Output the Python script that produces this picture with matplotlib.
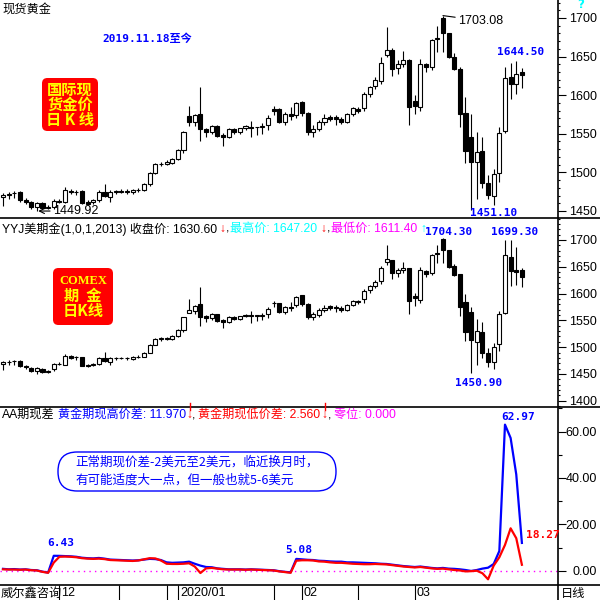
import matplotlib
matplotlib.use("Agg")
import matplotlib.pyplot as plt
from matplotlib.lines import Line2D
from matplotlib.patches import FancyBboxPatch
from matplotlib.ticker import MultipleLocator

plt.rcParams['font.family'] = ['Liberation Sans', 'Noto Sans CJK SC', 'DejaVu Sans']

W = H = 600  # canvas size in pixels


def fx(x):
    return x / W


def fy(y):
    return 1 - y / H


# --- spot gold daily candles (2019-11-18 .. 2020-03-27) ---
SPOT_O = [1468.5, 1471.0, 1473.0, 1474.0, 1464.0, 1461.0, 1455.0, 1460.0, 1454.5, 1455.0,
          1463.5, 1461.0, 1476.5, 1474.5, 1476.0, 1462.0, 1461.0, 1464.0, 1474.5, 1468.0,
          1475.0, 1475.5, 1475.0, 1474.0, 1477.0, 1477.0, 1484.5, 1499.0, 1511.0, 1511.5,
          1512.5, 1517.0, 1529.0, 1573.0, 1565.0, 1575.5, 1556.0, 1552.0, 1560.0, 1548.0,
          1546.0, 1556.0, 1552.0, 1557.0, 1559.0, 1558.4, 1558.4, 1561.0, 1581.7, 1581.7,
          1565.7, 1575.6, 1574.0, 1591.6, 1576.5, 1552.0, 1556.2, 1565.7, 1572.2, 1571.3,
          1568.7, 1565.7, 1575.2, 1582.0, 1583.0, 1601.5, 1612.0, 1619.0, 1652.0, 1658.5,
          1635.0, 1640.0, 1645.6, 1592.5, 1585.0, 1640.0, 1637.0, 1672.4, 1699.6, 1680.0,
          1649.0, 1634.0, 1576.5, 1546.0, 1513.0, 1527.7, 1486.0, 1469.0, 1498.8, 1554.0,
          1623.0, 1615.0, 1630.5]
SPOT_H = [1473.0, 1475.0, 1476.0, 1476.0, 1466.5, 1463.0, 1462.0, 1462.0, 1458.0, 1465.0,
          1466.0, 1481.0, 1479.0, 1477.0, 1477.0, 1464.0, 1466.0, 1477.0, 1485.0, 1477.0,
          1477.0, 1478.0, 1478.0, 1479.0, 1480.0, 1486.0, 1500.0, 1512.0, 1514.0, 1516.0,
          1519.0, 1530.0, 1553.0, 1586.0, 1576.0, 1611.0, 1558.0, 1562.0, 1561.5, 1551.0,
          1557.0, 1558.0, 1558.0, 1561.0, 1567.0, 1559.0, 1564.0, 1574.0, 1586.0, 1583.0,
          1578.0, 1584.3, 1591.0, 1593.0, 1578.0, 1561.4, 1568.0, 1575.2, 1574.0, 1574.3,
          1572.2, 1576.5, 1585.0, 1584.3, 1604.6, 1612.0, 1623.0, 1649.0, 1688.0, 1660.7,
          1645.0, 1657.7, 1646.5, 1600.0, 1647.0, 1642.0, 1673.0, 1689.0, 1703.08, 1681.0,
          1654.0, 1636.0, 1598.0, 1575.0, 1552.0, 1546.0, 1497.0, 1505.0, 1559.0, 1636.3,
          1642.0, 1644.5, 1635.2]
SPOT_L = [1456.0, 1466.0, 1467.0, 1462.0, 1459.5, 1453.0, 1449.92, 1452.0, 1452.0, 1452.0,
          1460.0, 1460.0, 1472.0, 1471.0, 1459.0, 1458.0, 1459.0, 1462.0, 1468.0, 1462.0,
          1472.0, 1473.0, 1472.0, 1472.0, 1475.0, 1476.0, 1483.0, 1498.0, 1508.0, 1510.0,
          1511.0, 1516.0, 1525.0, 1560.0, 1560.0, 1540.0, 1545.5, 1550.0, 1545.5, 1534.6,
          1544.0, 1550.0, 1550.0, 1555.0, 1545.5, 1548.5, 1550.0, 1555.0, 1574.3, 1564.0,
          1562.0, 1567.9, 1570.0, 1573.0, 1548.0, 1546.3, 1553.0, 1561.4, 1566.0, 1561.4,
          1562.6, 1564.4, 1573.0, 1577.4, 1580.0, 1598.0, 1608.0, 1615.0, 1650.0, 1625.0,
          1628.0, 1636.0, 1561.0, 1575.0, 1580.0, 1630.0, 1633.0, 1656.0, 1656.0, 1648.0,
          1633.0, 1559.0, 1512.0, 1451.1, 1466.0, 1480.0, 1466.0, 1458.0, 1488.0, 1551.0,
          1595.0, 1602.0, 1608.8]
SPOT_C = [1471.0, 1472.0, 1473.5, 1464.0, 1462.0, 1455.0, 1460.0, 1453.5, 1455.5, 1463.5,
          1461.5, 1477.0, 1474.0, 1475.0, 1460.0, 1459.5, 1464.0, 1474.5, 1469.5, 1475.0,
          1475.5, 1475.0, 1475.5, 1477.0, 1477.5, 1484.5, 1499.0, 1511.0, 1511.5, 1513.5,
          1517.0, 1529.0, 1552.0, 1565.5, 1574.5, 1556.0, 1552.0, 1560.0, 1546.5, 1545.5,
          1556.0, 1552.0, 1557.0, 1560.0, 1557.5, 1558.4, 1560.0, 1571.0, 1580.0, 1565.7,
          1575.6, 1573.5, 1589.5, 1576.5, 1552.0, 1556.2, 1565.7, 1570.0, 1568.7, 1568.7,
          1565.7, 1575.2, 1583.0, 1580.0, 1601.5, 1611.0, 1620.0, 1642.0, 1659.0, 1633.5,
          1640.0, 1645.0, 1585.0, 1586.0, 1640.4, 1636.0, 1671.5, 1674.0, 1680.0, 1649.0,
          1634.0, 1576.0, 1528.0, 1513.0, 1527.0, 1486.0, 1471.0, 1498.0, 1551.5, 1622.0,
          1615.0, 1628.0, 1626.0]

# --- COMEX gold futures daily candles ---
FUT_O = [1469.0, 1471.5, 1473.5, 1474.5, 1464.5, 1461.5, 1455.5, 1460.0, 1454.0, 1460.0,
         1469.5, 1467.3, 1482.8, 1480.8, 1481.5, 1467.3, 1466.3, 1469.3, 1479.8, 1472.6,
         1479.6, 1480.1, 1479.6, 1478.6, 1481.6, 1482.0, 1489.5, 1504.0, 1516.0, 1515.0,
         1516.0, 1520.5, 1532.5, 1564.0, 1568.0, 1580.6, 1558.5, 1554.0, 1561.5, 1550.0,
         1547.0, 1556.5, 1552.5, 1557.5, 1560.0, 1559.0, 1559.0, 1561.3, 1583.0, 1581.5,
         1565.2, 1575.1, 1578.7, 1596.5, 1581.3, 1556.8, 1560.3, 1569.8, 1576.2, 1575.2,
         1572.6, 1569.3, 1578.8, 1585.5, 1589.3, 1606.7, 1614.8, 1624.0, 1658.0, 1663.0,
         1637.8, 1644.0, 1647.0, 1595.5, 1588.0, 1642.0, 1639.0, 1676.0, 1702.0, 1681.0,
         1651.0, 1636.0, 1585.0, 1565.0, 1510.0, 1527.8, 1488.6, 1473.0, 1505.4, 1563.0,
         1667.7, 1644.0, 1644.0]
FUT_H = [1473.5, 1475.5, 1476.5, 1476.5, 1467.0, 1463.3, 1462.2, 1461.6, 1457.2, 1471.4,
         1472.4, 1487.3, 1485.2, 1483.0, 1482.6, 1469.4, 1471.3, 1482.5, 1490.2, 1481.8,
         1481.7, 1482.6, 1482.5, 1483.4, 1484.5, 1490.8, 1505.1, 1517.0, 1518.6, 1519.6,
         1522.4, 1533.5, 1556.6, 1589.9, 1579.0, 1613.2, 1559.6, 1563.5, 1562.5, 1551.8,
         1557.6, 1558.6, 1558.6, 1561.5, 1567.6, 1559.5, 1564.4, 1574.3, 1586.2, 1582.8,
         1577.5, 1583.6, 1596.1, 1597.9, 1582.7, 1566.0, 1572.3, 1579.4, 1578.0, 1578.2,
         1576.1, 1580.1, 1588.6, 1587.8, 1608.0, 1615.3, 1626.2, 1652.0, 1690.9, 1663.3,
         1647.3, 1659.7, 1648.3, 1601.6, 1648.8, 1643.5, 1674.2, 1690.0, 1704.3, 1681.9,
         1654.6, 1636.3, 1598.3, 1574.9, 1552.3, 1546.9, 1498.3, 1507.9, 1567.5, 1699.3,
         1699.2, 1686.0, 1647.2]
FUT_L = [1456.5, 1466.5, 1467.5, 1462.5, 1460.0, 1453.2, 1450.0, 1451.5, 1451.1, 1455.5,
         1466.0, 1466.1, 1478.0, 1476.8, 1464.4, 1463.2, 1464.1, 1467.2, 1473.0, 1466.6,
         1476.5, 1477.4, 1476.3, 1476.2, 1479.4, 1480.9, 1488.4, 1503.3, 1512.4, 1513.0,
         1513.9, 1518.9, 1528.0, 1563.2, 1561.8, 1539.0, 1546.5, 1551.2, 1546.4, 1535.2,
         1544.5, 1550.5, 1550.5, 1555.4, 1546.0, 1548.9, 1550.3, 1555.2, 1574.4, 1563.7,
         1561.4, 1567.0, 1574.3, 1577.5, 1552.5, 1550.7, 1557.0, 1565.3, 1569.6, 1564.8,
         1566.0, 1567.6, 1576.0, 1580.3, 1582.8, 1600.8, 1610.9, 1617.8, 1652.7, 1627.4,
         1630.1, 1637.8, 1562.6, 1576.4, 1581.6, 1631.3, 1634.0, 1656.8, 1656.9, 1648.6,
         1633.3, 1558.7, 1512.3, 1450.9, 1466.3, 1478.9, 1462.3, 1460.2, 1493.8, 1562.1,
         1613.3, 1616.0, 1611.4]
FUT_C = [1471.5, 1472.5, 1474.0, 1464.5, 1462.5, 1455.5, 1460.5, 1453.5, 1455.0, 1469.0,
         1467.8, 1483.3, 1480.2, 1481.2, 1465.3, 1464.8, 1469.3, 1479.8, 1474.8, 1479.6,
         1480.1, 1479.6, 1480.1, 1481.6, 1482.1, 1489.5, 1504.0, 1516.0, 1516.5, 1517.0,
         1520.5, 1532.5, 1555.5, 1569.0, 1577.0, 1555.8, 1554.0, 1562.0, 1548.0, 1547.5,
         1556.5, 1552.5, 1557.5, 1560.5, 1558.0, 1559.0, 1560.5, 1571.3, 1582.5, 1565.4,
         1575.1, 1573.0, 1594.2, 1581.4, 1556.7, 1561.0, 1569.8, 1574.0, 1572.7, 1572.6,
         1569.6, 1578.8, 1586.6, 1583.5, 1605.5, 1614.8, 1622.0, 1647.0, 1664.0, 1637.8,
         1644.0, 1648.4, 1587.0, 1591.0, 1644.0, 1636.6, 1672.5, 1674.0, 1681.0, 1650.0,
         1634.7, 1575.6, 1529.0, 1513.4, 1530.0, 1488.6, 1473.0, 1501.0, 1561.0, 1672.0,
         1642.8, 1641.0, 1630.6]

# --- futures minus spot: high spread (blue) and low spread (red) ---
HIGH_SPREAD = [0.8, 0.6, 0.7, 0.5, 0.6, 0.3, 0.2, -0.4, -0.8, 6.43,
               6.4, 6.3, 6.2, 6.0, 5.6, 5.4, 5.3, 5.5, 5.2, 4.8,
               4.7, 4.6, 4.5, 4.4, 4.5, 4.8, 5.1, 5.0, 4.6, 3.6,
               3.4, 3.5, 3.6, 3.9, 3.0, 2.2, 1.6, 1.5, 1.0, 0.8,
               0.6, 0.6, 0.6, 0.5, 0.6, 0.5, 0.4, 0.3, 0.2, -0.2,
               -0.5, -0.7, 5.08, 4.9, 4.7, 4.6, 4.3, 4.2, 4.0, 3.9,
               3.9, 3.6, 3.6, 3.5, 3.4, 3.3, 3.2, 3.0, 2.9, 2.6,
               2.3, 2.0, 1.8, 1.6, 1.8, 1.5, 1.2, 1.0, 1.2, 0.9,
               0.8, 0.6, 0.3, -0.1, 0.3, 0.9, 1.3, 2.9, 8.5, 62.97,
               57.2, 41.5, 11.97]
LOW_SPREAD = [0.6, 0.5, 0.5, 0.4, 0.5, 0.2, 0.1, -0.5, -0.9, 3.5,
              6.0, 6.1, 6.0, 5.8, 5.4, 5.2, 5.1, 5.2, 5.0, 4.6,
              4.5, 4.4, 4.3, 4.2, 4.4, 4.9, 5.4, 5.3, 4.4, 3.0,
              2.9, 2.9, 3.0, 3.2, 1.8, -1.0, 1.0, 1.2, 0.9, 0.6,
              0.5, 0.5, 0.5, 0.4, 0.5, 0.4, 0.3, 0.2, 0.1, -0.3,
              -0.6, -0.9, 4.3, 4.5, 4.5, 4.4, 4.0, 3.9, 3.6, 3.4,
              3.4, 3.2, 3.0, 2.9, 2.8, 2.8, 2.9, 2.8, 2.7, 2.4,
              2.1, 1.8, 1.6, 1.4, 1.6, 1.3, 1.0, 0.8, 0.9, 0.6,
              0.3, 0.1, -0.3, -0.2, 0.0, -1.1, -3.7, 2.2, 5.8, 11.1,
              18.27, 14.0, 2.56]

MONTH_IDX = [10, 31, 53, 73]
MONTH_LABELS = ['12', '2020/01', '02', '03']
MID_IDX = [20.5, 29, 48, 63]

SPOT_TICKS = [1450, 1500, 1550, 1600, 1650, 1700]
FUT_TICKS = [1400, 1450, 1500, 1550, 1600, 1650, 1700]
SPREAD_TICKS = [0, 20, 40, 60]
SPREAD_LABELS = ['0.00', '20.00', '40.00', '60.00']

BLUE = '#0000FF'
RED = '#FF0000'
CYAN = '#00FFFF'
MAGENTA = '#FF00FF'
YELLOW = '#FFFF00'
MONO = ['DejaVu Sans Mono', 'Noto Sans CJK SC']
CJK = ['Noto Sans CJK SC', 'DejaVu Sans']


def draw_candles(ax, o, h, l, c):
    idx = list(range(len(o)))
    ax.vlines(idx, l, h, color='black', lw=0.8, zorder=2)
    bottoms = [min(a, b) for a, b in zip(o, c)]
    heights = [max(abs(b - a), 0.3) for a, b in zip(o, c)]
    faces = ['white' if b >= a else 'black' for a, b in zip(o, c)]
    ax.bar(idx, heights, bottom=bottoms, width=0.72, color=faces,
           edgecolor='black', linewidth=0.8, zorder=3)


def style_axis(ax, ticks, labels, minor):
    ax.set_xlim(-0.53, 98.4)
    for s in ax.spines.values():
        s.set_visible(False)
    ax.yaxis.tick_right()
    ax.set_yticks(ticks)
    ax.set_yticklabels(labels, ha='right')
    ax.yaxis.set_minor_locator(MultipleLocator(minor))
    ax.tick_params(axis='y', which='major', length=6, width=0.8, pad=22,
                   labelsize=9)
    ax.tick_params(axis='y', which='minor', length=1.5, width=0.8)
    ax.tick_params(axis='x', which='both', bottom=False, labelbottom=False)


def ftext(x, y, s, **kw):
    kw.setdefault('va', 'center')
    kw.setdefault('ha', 'left')
    fig.text(fx(x), fy(y), s, **kw)


fig = plt.figure(figsize=(6, 6), dpi=100)
ax1 = fig.add_axes([0, fy(218), fx(558), 218 / H])
ax2 = fig.add_axes([0, fy(407), fx(558), (407 - 218) / H])
ax3 = fig.add_axes([0, fy(585), fx(558), (585 - 407) / H])

# top: spot candles
draw_candles(ax1, SPOT_O, SPOT_H, SPOT_L, SPOT_C)
ax1.set_ylim(1440.9, 1723.3)
style_axis(ax1, SPOT_TICKS, [str(t) for t in SPOT_TICKS], 10)

# middle: futures candles
draw_candles(ax2, FUT_O, FUT_H, FUT_L, FUT_C)
ax2.set_ylim(1388.4, 1741.0)
style_axis(ax2, FUT_TICKS, [str(t) for t in FUT_TICKS], 10)

# bottom: spreads
x = list(range(len(HIGH_SPREAD)))
ax3.axhline(0, color=MAGENTA, lw=1, ls=(0, (1, 3)), zorder=1)
ax3.plot(x, HIGH_SPREAD, color=BLUE, lw=1.6, zorder=2)
ax3.plot(x, LOW_SPREAD, color=RED, lw=1.6, zorder=3)
ax3.set_ylim(-6.16, 70.56)
style_axis(ax3, SPREAD_TICKS, SPREAD_LABELS, 10)
ax3.tick_params(axis='y', which='minor', length=3)
ax3.set_xticks(MONTH_IDX + MID_IDX)
ax3.tick_params(axis='x', which='major', bottom=True, length=11, width=0.8,
                direction='out', labelbottom=False)
for idx, lab in zip(MONTH_IDX, MONTH_LABELS):
    ax3.annotate(lab, xy=(idx, 0), xycoords=('data', 'axes fraction'),
                 xytext=(2, -8), textcoords='offset pixels',
                 ha='left', va='center', fontsize=9)

# frame lines
for yy in (218, 407, 585):
    fig.add_artist(Line2D([0, 1], [fy(yy)] * 2, color='black', lw=1.2,
                          transform=fig.transFigure))
fig.add_artist(Line2D([fx(558)] * 2, [0, 1], color='black', lw=1.2,
                      transform=fig.transFigure))
for xx in (190, 325):
    fig.add_artist(Line2D([fx(xx)] * 2, [fy(410), fy(403)], color=RED, lw=1,
                          transform=fig.transFigure))

# top panel texts
ftext(2, 9, '现货黄金', fontsize=8.8, family=CJK)
ftext(577, 5, '?', fontsize=8.5, color=CYAN, fontweight='bold', family=['DejaVu Sans'])
ftext(102, 39, '2019.11.18至今', fontsize=8, color=BLUE, fontweight='bold', family=MONO)
fig.add_artist(FancyBboxPatch((fx(42), fy(131)), (98 - 42) / W, (131 - 78) / H,
                              boxstyle='round,pad=0,rounding_size=0.009',
                              fc=RED, ec='none', transform=fig.transFigure))
for yy, s in zip((90, 105, 120), ('国际现', '货金价', '日 K 线')):
    ftext(70, yy, s, ha='center', fontsize=11, color=YELLOW, fontweight='bold', family=CJK)
ax1.annotate('1703.08', xy=(78, 1703.08), xytext=(15, -5), textcoords='offset pixels',
             ha='left', va='center', fontsize=9,
             arrowprops=dict(arrowstyle='-', color='black', lw=0.8, shrinkA=0, shrinkB=0))
ax1.annotate('1449.92', xy=(6, 1449.92), xytext=(16, 0), textcoords='offset pixels',
             ha='left', va='center', fontsize=9,
             arrowprops=dict(arrowstyle='->', color='black', lw=0.8, shrinkA=0, shrinkB=1))
ftext(497, 52, '1644.50', fontsize=8, color=BLUE, fontweight='bold', family=MONO)
ftext(470, 213, '1451.10', fontsize=8, color=BLUE, fontweight='bold', family=MONO)

# middle panel texts
ftext(2, 229, 'YYJ美期金(1,0,1,2013) 收盘价: 1630.60', fontsize=8.7)
ftext(219, 229, '↓', fontsize=8.7, color=RED)
ftext(226, 229, ',', fontsize=8.7)
ftext(230, 229, '最高价: 1647.20', fontsize=8.7, color=CYAN)
ftext(320, 229, '↓', fontsize=8.7, color=RED)
ftext(327, 229, ',', fontsize=8.7)
ftext(331, 229, '最低价: 1611.40', fontsize=8.7, color=MAGENTA)
ftext(420, 229, '↑', fontsize=8.7, color=CYAN)
ftext(425, 232, '1704.30', fontsize=8, color=BLUE, fontweight='bold', family=MONO)
ftext(491, 232, '1699.30', fontsize=8, color=BLUE, fontweight='bold', family=MONO)
ftext(455, 383, '1450.90', fontsize=8, color=BLUE, fontweight='bold', family=MONO)
fig.add_artist(FancyBboxPatch((fx(53), fy(325)), (113 - 53) / W, (325 - 268) / H,
                              boxstyle='round,pad=0,rounding_size=0.009',
                              fc=RED, ec='none', transform=fig.transFigure))
ftext(83, 281, 'COMEX', ha='center', fontsize=9, color=YELLOW, fontweight='bold',
      family=['Liberation Serif'])
ftext(83, 296, '期  金', ha='center', fontsize=11, color=YELLOW, fontweight='bold', family=CJK)
ftext(83, 311, '日K线', ha='center', fontsize=11, color=YELLOW, fontweight='bold', family=CJK)

# bottom panel texts
ftext(2, 415, 'AA期现差', fontsize=8.7)
ftext(58, 415, '黄金期现高价差: 11.970', fontsize=8.7, color=BLUE)
ftext(186, 415, '↓', fontsize=8.7, color=RED)
ftext(192, 415, ',', fontsize=8.7)
ftext(198, 415, '黄金期现低价差: 2.560', fontsize=8.7, color=RED)
ftext(321, 415, '↓', fontsize=8.7, color=RED)
ftext(328, 415, ',', fontsize=8.7)
ftext(334, 415, '零位: 0.000', fontsize=8.7, color=MAGENTA)
fig.add_artist(FancyBboxPatch((fx(58), fy(491)), (336 - 58) / W, (491 - 452) / H,
                              boxstyle='round,pad=0,rounding_size=0.032',
                              fc='white', ec=BLUE, lw=1, transform=fig.transFigure))
ftext(75, 462, '正常期现价差-2美元至2美元，临近换月时，', fontsize=9, color=BLUE, family=CJK)
ftext(75, 480, '有可能适度大一点，但一般也就5-6美元', fontsize=9, color=BLUE, family=CJK)
ftext(47, 543, '6.43', fontsize=8, color=BLUE, fontweight='bold', family=MONO)
ftext(285, 550, '5.08', fontsize=8, color=BLUE, fontweight='bold', family=MONO)
ftext(501, 417, '62.97', fontsize=8, color=BLUE, fontweight='bold', family=MONO)
ftext(526, 535, '18.27', fontsize=8, color=RED, fontweight='bold', family=MONO)

# footer
ftext(1, 593, '威尔鑫咨询', fontsize=8.8, family=CJK)
ftext(561, 593, '日线', fontsize=8.8, family=CJK)

fig.savefig('out.png', dpi=100)
